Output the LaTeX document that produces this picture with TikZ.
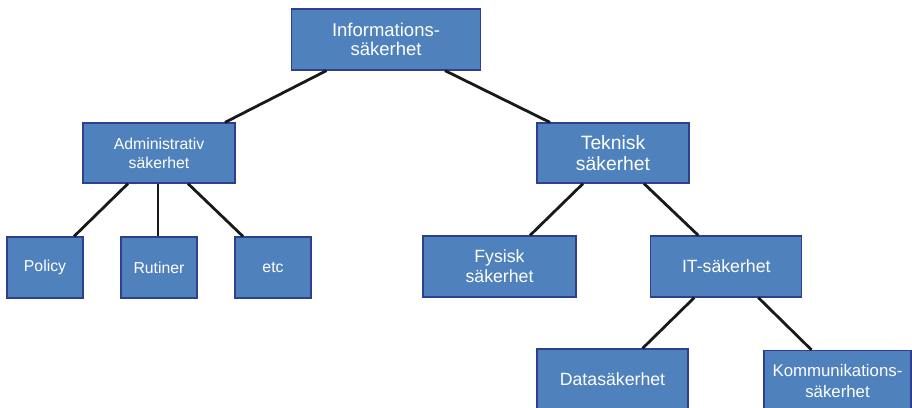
\documentclass[tikz,border=0pt]{standalone}
\usepackage{fontspec}
\setmainfont{Liberation Sans}
\definecolor{boxfill}{HTML}{4F81BD}
\definecolor{boxline}{HTML}{2F3F8F}
\begin{document}
\begin{tikzpicture}[x=1pt,y=-1pt,
  box/.style={draw=boxline,fill=boxfill,line width=1.2pt,text=white,align=center,inner sep=0pt,minimum height=61pt},
  fA/.style={font=\fontsize{18.5}{18.5}\selectfont},
  fB/.style={font=\fontsize{17.7}{20}\selectfont},
  fT/.style={font=\fontsize{19.3}{20.5}\selectfont},
  fK/.style={font=\fontsize{16.8}{21.5}\selectfont},
  fS/.style={font=\fontsize{15.8}{19}\selectfont},
  link/.style={line width=2.8pt,black!90}]
\useasboundingbox (0,0) rectangle (912,407);
\clip (0,0) rectangle (912,407);
\node[box,fA,minimum width=189pt] (top) at (386,39.5) {Informations-\\säkerhet};
\node[box,fS,minimum width=152pt,minimum height=60pt] (adm) at (159,153) {Administrativ\\säkerhet};
\node[box,fT,minimum width=152pt,minimum height=60pt] (tek) at (613,153) {Teknisk\\säkerhet};
\node[box,fS,minimum width=76pt] (pol) at (45,267.5) {Policy};
\node[box,fS,minimum width=76pt] (rut) at (159,267.5) {Rutiner};
\node[box,fS,minimum width=76pt] (etc) at (273,267.5) {etc};
\node[box,fB,minimum width=153pt] (fys) at (499.5,266.5) {Fysisk\\säkerhet};
\node[box,fB,minimum width=151pt] (it) at (726.3,266.5) {IT-säkerhet};
\node[box,fB,minimum width=151pt] (data) at (612.5,379.5) {Datasäkerhet};
\node[box,fK,minimum width=147pt] (komm) at (837.5,381) {Kommunikations-\\säkerhet};
\draw[link] ([xshift=-59.5pt]top.south) -- ([xshift=66pt]adm.north);
\draw[link] ([xshift=59pt]top.south) -- ([xshift=-63pt]tek.north);
\draw[link] ([xshift=-31pt]adm.south) -- ([xshift=29pt]pol.north);
\draw[link] ([xshift=-1pt]adm.south) -- ([xshift=-1pt]rut.north);
\draw[link] ([xshift=29pt]adm.south) -- ([xshift=-30pt]etc.north);
\draw[link] ([xshift=-30pt]tek.south) -- ([xshift=30.5pt]fys.north);
\draw[link] ([xshift=31pt]tek.south) -- ([xshift=-28pt]it.north);
\draw[link] ([xshift=-32pt]it.south) -- ([xshift=30pt]data.north);
\draw[link] ([xshift=32pt]it.south) -- ([xshift=-26pt]komm.north);
\end{tikzpicture}
\end{document}
